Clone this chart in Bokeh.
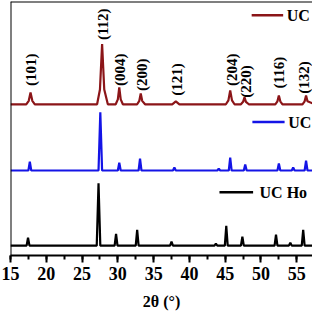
import math
from bokeh.plotting import figure
from bokeh.models import Span, SingleIntervalTicker, Range1d
from bokeh.core.properties import value
from bokeh.embed import file_html
from bokeh.resources import INLINE

# ---------------- data (2theta in degrees, intensity in a.u. above each baseline) ----------------
ho_2theta = [15.0, 17.25, 17.45, 17.65, 27.05, 27.3, 27.55, 29.55, 29.75, 29.95,
             32.5, 32.7, 32.9, 37.3, 37.5, 37.7, 43.5, 43.7, 43.9, 44.95, 45.15, 45.35,
             47.2, 47.4, 47.6, 51.9, 52.1, 52.3, 53.9, 54.1, 54.3, 55.7, 55.9, 56.1, 57.2]
ho_int = [0, 0, 8, 0, 0, 63, 0, 0, 12, 0,
          0, 16, 0, 0, 4, 0, 0, 2, 0, 0, 20, 0,
          0, 9, 0, 0, 11, 0, 0, 3, 0, 0, 16, 0, 0]

blue_2theta = [15.0, 17.5, 17.7, 17.9, 27.3, 27.55, 27.8, 30.0, 30.2, 30.4,
               32.9, 33.1, 33.3, 37.7, 37.9, 38.1, 43.9, 44.1, 44.3, 45.5, 45.7, 45.9,
               47.6, 47.8, 48.0, 52.3, 52.5, 52.7, 54.3, 54.5, 54.7, 56.1, 56.3, 56.5, 57.2]
blue_int = [0, 0, 9, 0, 0, 59, 0, 0, 8, 0,
            0, 12, 0, 0, 3, 0, 0, 2, 0, 0, 13, 0,
            0, 6, 0, 0, 7, 0, 0, 3, 0, 0, 10, 0, 0]

red_2theta = [15.0, 17.2, 17.55, 17.8, 18.05, 18.4, 27.1, 27.5, 27.8, 28.1, 28.6,
              29.7, 30.0, 30.2, 30.4, 30.7, 32.7, 33.0, 33.2, 33.4, 33.8,
              37.6, 38.1, 38.6, 45.1, 45.45, 45.7, 45.95, 46.3,
              47.2, 47.5, 47.7, 47.9, 48.3, 52.0, 52.3, 52.5, 52.7, 53.0,
              55.8, 56.1, 56.3, 56.5, 57.2]
red_int = [0, 0, 3.5, 12, 3.5, 0, 0, 15, 61, 15, 0,
           0, 5, 17, 5, 0, 0, 3.5, 11, 3.5, 0,
           0, 3, 0, 0, 4, 14, 4, 0,
           0, 2.5, 7, 2.5, 0, 0, 3, 9, 3, 0,
           0, 3, 9, 3, 1]

series_names = ["UC Ho", "UC", "UC"]          # bottom, middle, top
series_colors = ["#000000", "#1414E6", "#8B1518"]
series_offsets = [10, 86, 153]

hkl_labels = ["(101)", "(112)", "(004)", "(200)", "(121)", "(204)", "(220)", "(116)", "(132)"]
hkl_2theta = [17.8, 27.9, 30.3, 33.4, 38.3, 45.95, 47.95, 52.5, 56.0]

x_ticks_interval = 5

# ---------------- layout constants ----------------
hkl_label_y = [188, 234, 188, 183, 178, 188, 176, 185, 180]
legend_line_x = [(44.2, 48.9), (48.8, 53.3), (48.7, 53.1)]
legend_text_x = [49.8, 53.8, 53.6]
legend_y = [64, 135, 243]

FONT = "Liberation Serif"

p = figure(width=312, height=312, output_backend="svg", toolbar_location=None,
           x_range=Range1d(15, 57.2), y_range=Range1d(0, 257),
           y_axis_location=None, min_border_left=10, min_border_right=0,
           min_border_top=1, min_border_bottom=0)
p.outline_line_color = None
p.xgrid.visible = False
p.ygrid.visible = False

for xs, ys, off, col in zip([ho_2theta, blue_2theta, red_2theta],
                            [ho_int, blue_int, red_int], series_offsets, series_colors):
    p.line(xs, [y + off for y in ys], line_color=col, line_width=2.2)

p.text(x=hkl_2theta, y=hkl_label_y, text=hkl_labels, angle=math.pi / 2,
       text_align="center", text_baseline="middle", text_font=value(FONT),
       text_font_style="bold", text_font_size="15px", text_color="black")

for (x0, x1), tx, ly, name, col in zip(legend_line_x, legend_text_x, legend_y,
                                       series_names, series_colors):
    p.line([x0, x1], [ly, ly], line_color=col, line_width=2.5)
    p.text(x=[tx], y=[ly], text=[name], text_align="left", text_baseline="middle",
           text_font=value(FONT), text_font_style="bold", text_font_size="16px",
           text_color="black")

p.add_layout(Span(location=15, dimension="height", line_color="black", line_width=2))
p.add_layout(Span(location=257, dimension="width", line_color="black", line_width=2))

ax = p.xaxis[0]
ax.ticker = SingleIntervalTicker(interval=x_ticks_interval, num_minor_ticks=2)
ax.axis_line_width = 2
ax.major_tick_line_width = 2
ax.minor_tick_line_width = 2
ax.major_tick_in = 0
ax.major_tick_out = 7
ax.minor_tick_in = 0
ax.minor_tick_out = 4
ax.major_label_standoff = 4
ax.major_label_text_font = FONT
ax.major_label_text_font_style = "bold"
ax.major_label_text_font_size = "18px"
ax.major_label_text_color = "black"
ax.axis_label = "2θ (°)"
ax.axis_label_text_font = FONT
ax.axis_label_text_font_style = "bold"
ax.axis_label_text_font_size = "16px"
ax.axis_label_text_color = "black"
ax.axis_label_standoff = 10

open("out.html", "w").write(file_html(p, INLINE))
